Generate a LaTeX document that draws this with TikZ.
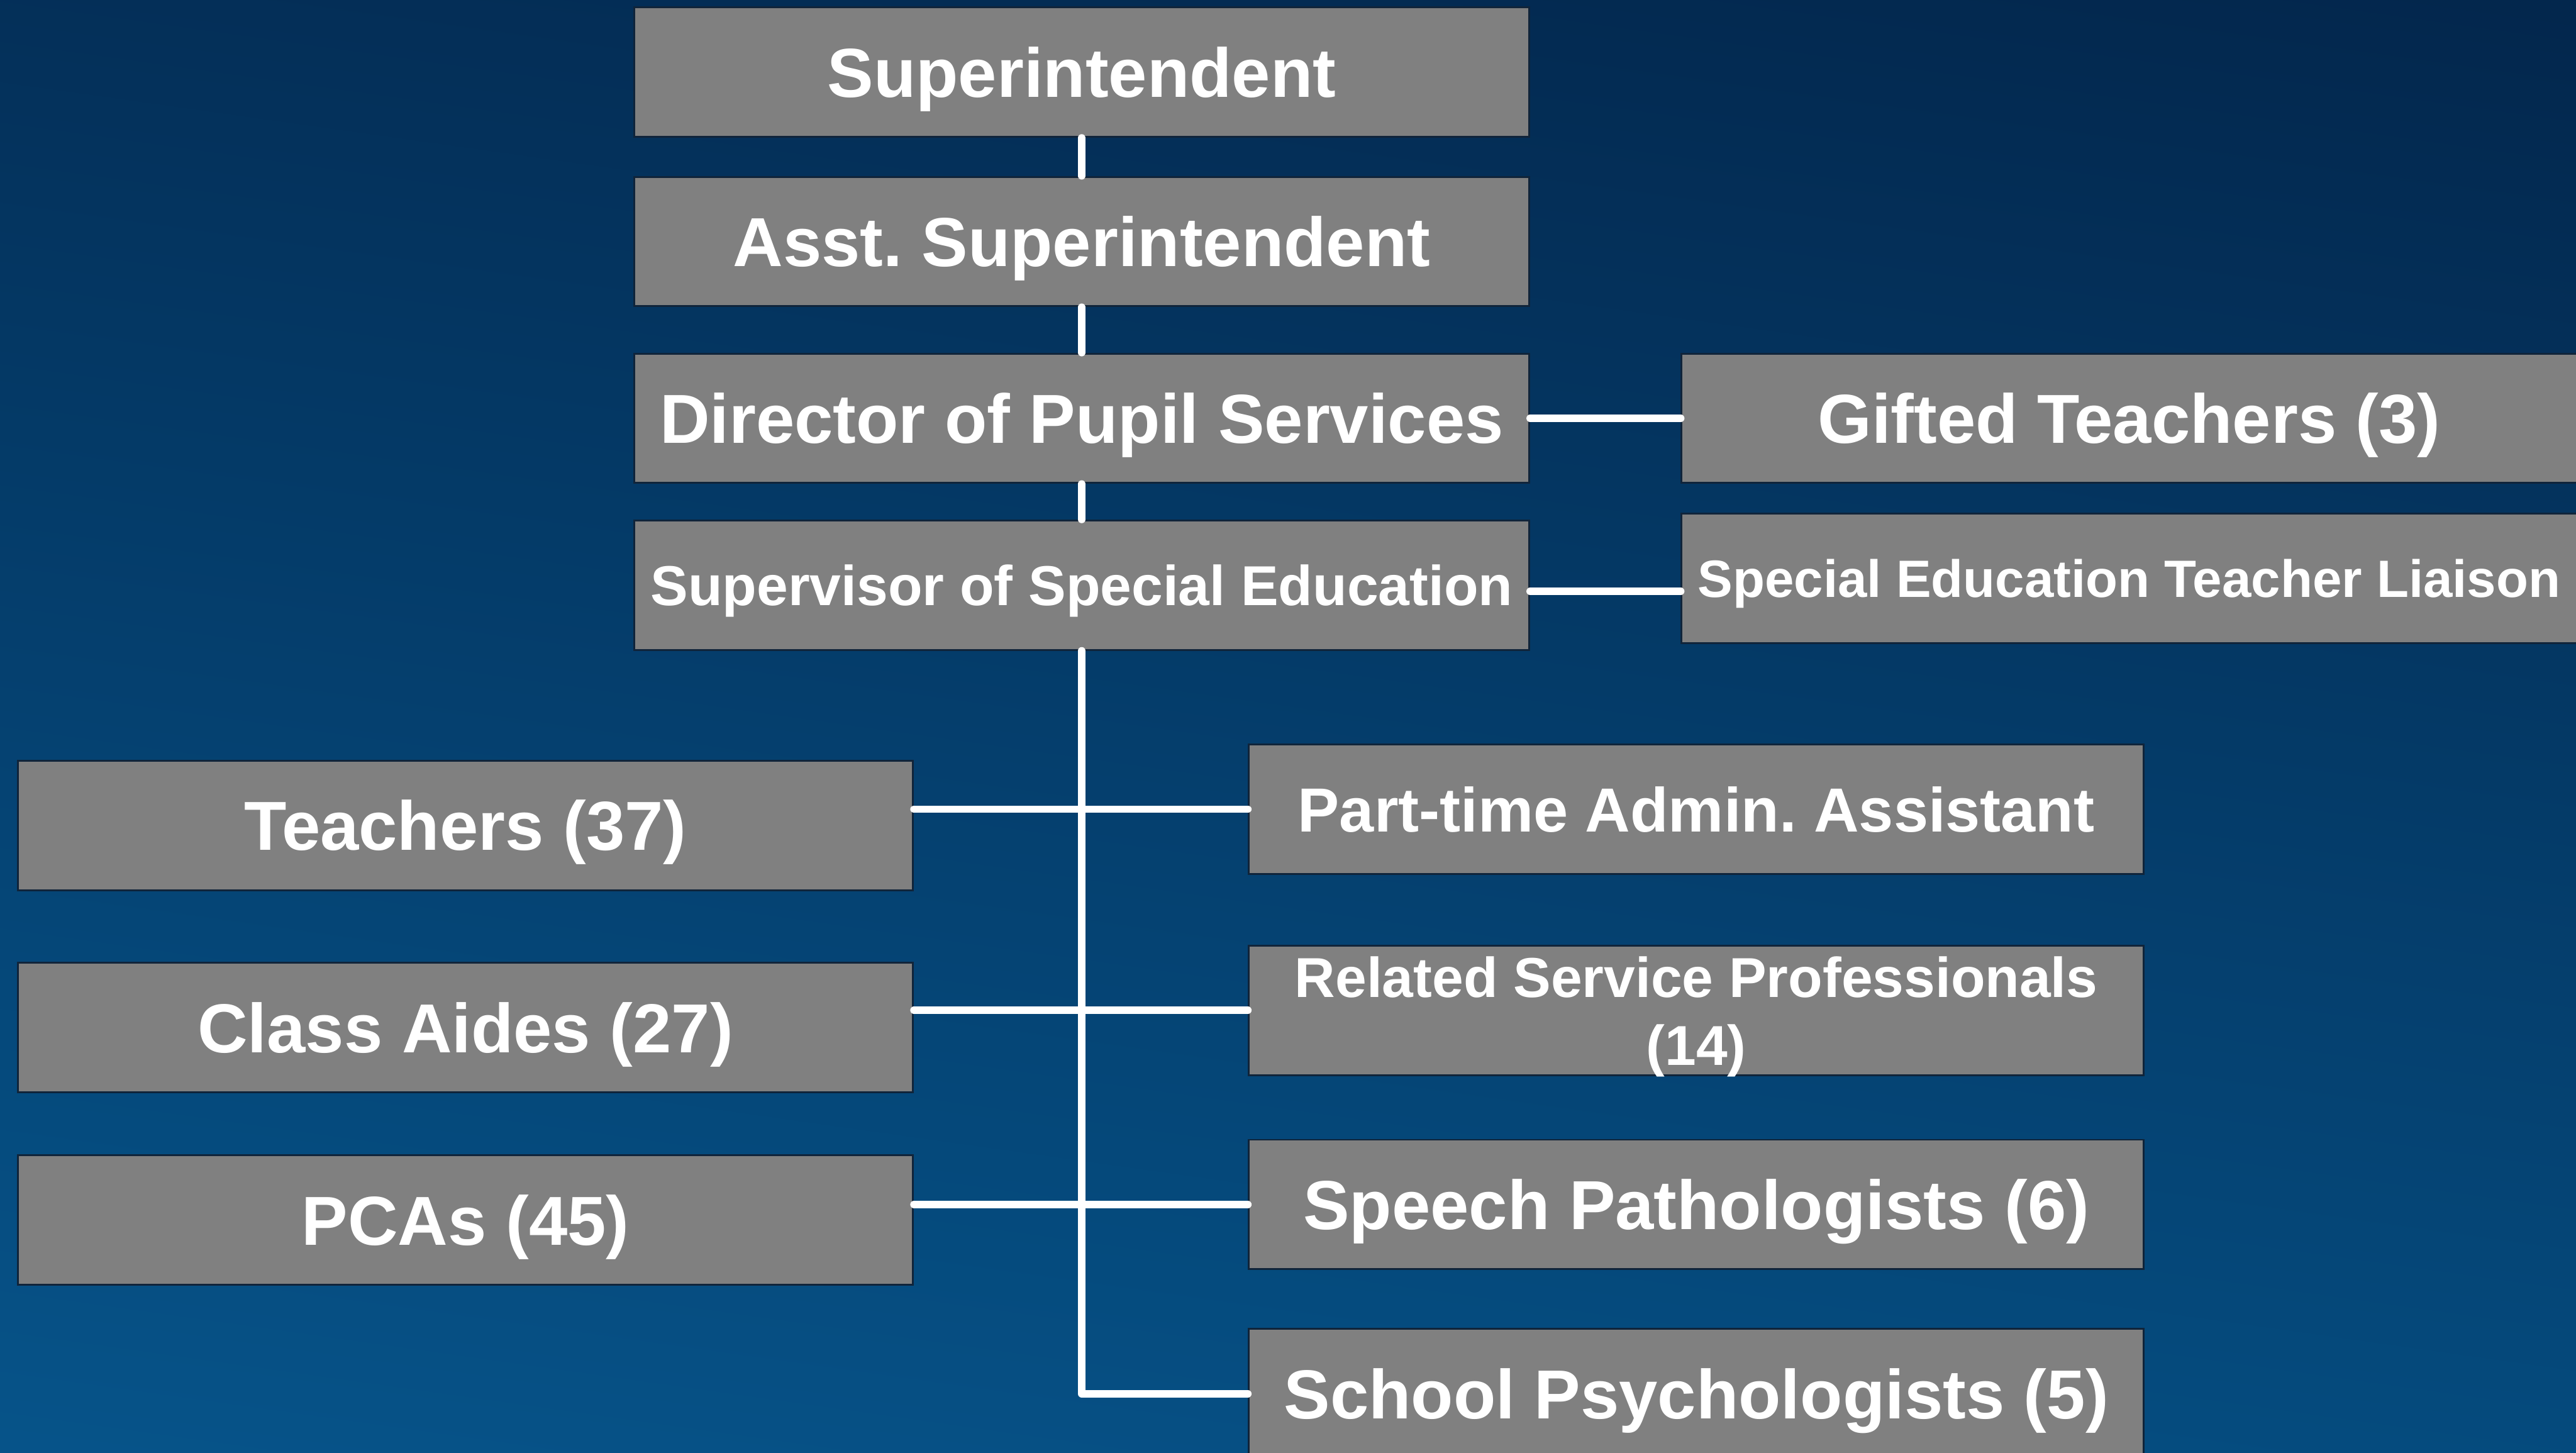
\documentclass[tikz,border=0pt]{standalone}
\usepackage{fontspec}
\setmainfont{Liberation Sans}
\frenchspacing

\begin{document}
\begin{tikzpicture}[
    box/.style={fill=kGrey, draw=kEdge, line width=0.03cm, minimum width=14.38cm,
                minimum height=2.08cm, inner sep=0pt},
    txt/.style={text=white, font=\bfseries\fontsize{31.7}{38}\selectfont,
                text height=22.7pt, text depth=0pt},
    midtxt/.style={text=white, font=\bfseries\fontsize{28.5}{34}\selectfont,
                text height=20.4pt, text depth=0pt},
    smalltxt/.style={text=white, font=\bfseries\fontsize{25.7}{31}\selectfont,
                text height=18.4pt, text depth=0pt},
    link/.style={draw=white, line width=0.12cm, line cap=round, line join=round}]
  \definecolor{kTop}{RGB}{3,38,76}
  \definecolor{kBottom}{RGB}{6,84,138}
  \definecolor{kGrey}{RGB}{128,128,128}
  \definecolor{kEdge}{RGB}{16,36,58}

  \useasboundingbox (0,0) rectangle (41.39,-23.34);
  \clip (0,0) rectangle (41.39,-23.34);
  \shade[top color=kTop, bottom color=kBottom, shading angle=-8]
    (-2,2) rectangle (43.39,-25.34);

  % chain of command down the middle
  \node[box, txt] (super) at (17.38,-1.16) {Superintendent};
  \node[box, txt] (asst)  at (17.38,-3.88) {Asst. Superintendent};
  \node[box, txt] (dir)   at (17.38,-6.72) {Director of Pupil Services};
  \node[box, smalltxt] (sup) at (17.38,-9.40) {Supervisor of Special Education};

  % side posts
  \node[box, txt] (gift) at (34.21,-6.72) {Gifted Teachers (3)};
  \node[box, text=white, font=\bfseries\fontsize{24}{29}\selectfont,
        text height=17.2pt, text depth=0pt] (lia) at (34.21,-9.29)
        {Special Education Teacher Liaison};

  % left column
  \foreach \name/\y/\label in {teach/13.26/Teachers (37),
                               aides/16.51/Class Aides (27),
                               pca/19.60/PCAs (45)}
    \node[box, txt] (\name) at (7.48,-\y) {\label};

  % right column
  \node[box, midtxt] (pta) at (27.255,-13.00) {Part-time Admin. Assistant};
  \node[box] (rsp) at (27.255,-16.23) {};
  \node[smalltxt, text height=, text depth=, align=center, anchor=north, inner sep=0pt]
    (rsptxt) at ([yshift=0.87cm]rsp.center) {Related Service Professionals\\(14)};
  \node[box, txt] (speech) at (27.255,-19.35) {Speech Pathologists (6)};
  \node[box, txt] (school) at (27.255,-22.39) {School Psychologists (5)};

  % connectors
  \draw[link] (super) -- (asst);
  \draw[link] (asst) -- (dir);
  \draw[link] (dir) -- (sup);
  \draw[link] (dir) -- (gift);
  \draw[link] ([yshift=-0.1cm]sup.east) -- ([yshift=-0.1cm]sup.east -| lia.west);
  \draw[link] (sup.south) -- (sup.south |- school.west) -- (school.west);
  \foreach \a/\b in {teach/pta, aides/rsp, pca/speech}
    \draw[link] (\b.west) -- (\b.west -| \a.east);
\end{tikzpicture}
\end{document}
